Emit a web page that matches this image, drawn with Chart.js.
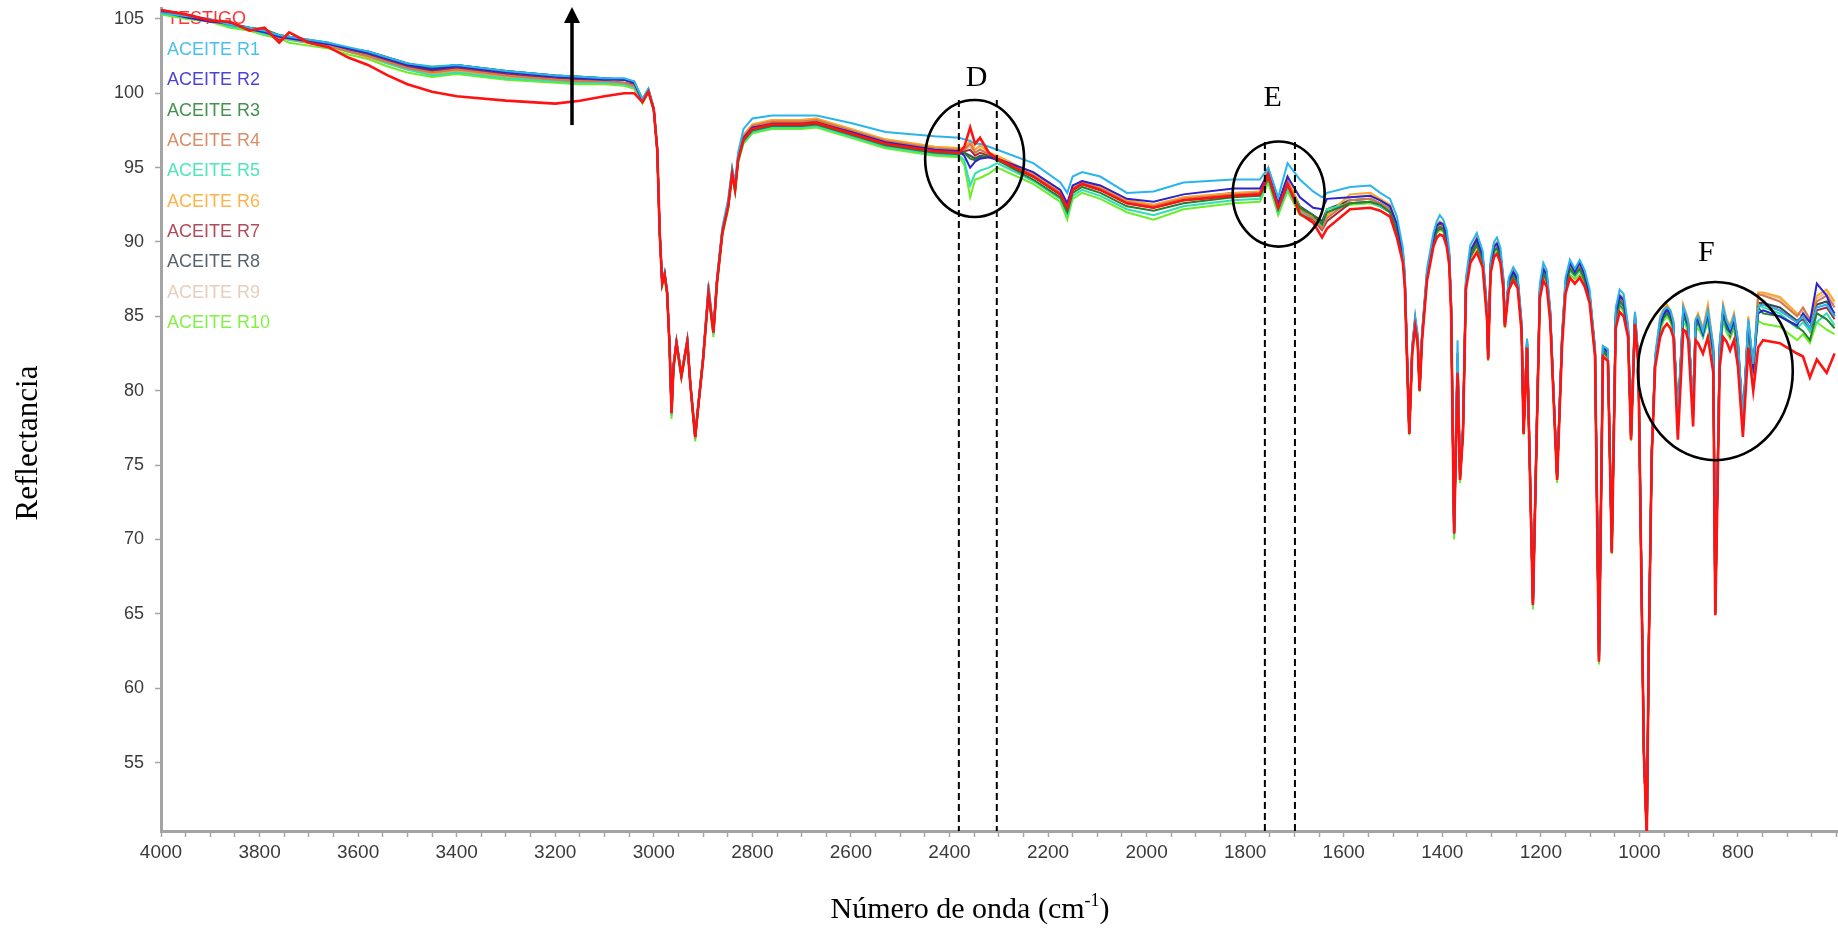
<!DOCTYPE html>
<html lang="es">
<head>
<meta charset="utf-8">
<title>Reflectancia</title>
<script src="https://cdn.jsdelivr.net/npm/chart.js@4.4.1/dist/chart.umd.min.js"></script>
<style>
  html, body { margin: 0; padding: 0; background: #fff; }
  canvas { display: block; }
</style>
</head>
<body>
<canvas id="espectro" width="1838" height="931"></canvas>
<script>
// numero de onda (cm-1), de mayor a menor
const numeroOnda = [
  4000, 3950, 3900, 3860, 3820, 3790, 3760, 3740, 3700, 3660,
  3620, 3580, 3540, 3500, 3450, 3400, 3300, 3200, 3150, 3100,
  3060, 3040, 3023, 3011, 3000, 2993, 2988, 2983, 2978, 2973,
  2968, 2964, 2960, 2954, 2944, 2932, 2926, 2916, 2910, 2900,
  2889, 2879, 2872, 2861, 2849, 2841, 2835, 2829, 2818, 2800,
  2760, 2700, 2670, 2600, 2530, 2430, 2380, 2370, 2358, 2348,
  2338, 2320, 2303, 2230, 2175, 2161, 2150, 2131, 2094, 2040,
  1986, 1925, 1824, 1770, 1753, 1733, 1714, 1689, 1662, 1644,
  1634, 1587, 1546, 1526, 1506, 1492, 1480, 1476, 1467, 1461,
  1455, 1450, 1446, 1441, 1431, 1418, 1411, 1405, 1398, 1391, 1386, 1382, 1376,
  1369, 1364, 1358, 1352, 1343, 1330, 1318, 1309, 1307, 1302, 1295, 1289, 1282, 1276,
  1273, 1265, 1256, 1247, 1239, 1235, 1228, 1216, 1208, 1202, 1195, 1188, 1181, 1167,
  1157, 1150, 1141, 1131, 1121, 1111, 1101, 1090, 1082, 1074, 1064, 1056,
  1048, 1040, 1032, 1023, 1017, 1009, 1002, 991, 985, 981, 975, 968,
  958, 951, 944, 937, 931, 922, 911, 906, 901, 891, 886, 881, 871, 861,
  850, 846, 837, 830, 823, 816, 808, 800, 790, 779, 769,
  759, 749, 715, 680, 668, 654, 640, 620, 604
];

const testigo = [
  105.6, 105.3, 104.9, 104.8, 104.2, 104.4, 103.4, 104.1, 103.4, 103.1,
  102.4, 101.9, 101.2, 100.6, 100.1, 99.8, 99.5, 99.3, 99.5, 99.8,
  100.0, 100.0, 99.4, 100.1, 98.9, 96.2, 90.6, 87.2, 87.8, 86.6,
  83.0, 78.5, 81.6, 83.2, 81.0, 83.3, 80.5, 76.9, 78.9, 82.1,
  86.6, 83.9, 87.2, 90.6, 92.4, 94.6, 93.5, 95.5, 96.9, 97.6,
  97.9, 97.9, 98.0, 97.3, 96.6, 96.1, 96.0, 96.4, 97.7, 96.6,
  97.0, 96.0, 95.6, 94.4, 93.2, 92.3, 93.5, 93.9, 93.5, 92.6,
  92.3, 92.8, 93.1, 93.2, 94.5, 92.3, 93.9, 91.9, 91.3, 90.3,
  90.9, 92.2, 92.3, 92.1, 91.7, 90.3, 88.6, 87.0, 77.1, 82.5,
  84.3, 83.2, 80.0, 83.4, 87.4, 89.7, 90.3, 90.5, 90.4, 89.7, 88.5, 85.2, 70.4,
  81.2, 74.0, 77.1, 86.8, 88.6, 89.3, 88.3, 84.7, 82.1, 87.9, 89.0, 89.2, 88.6, 86.8,
  84.3, 86.8, 87.4, 86.9, 83.9, 77.1, 82.9, 65.6, 77.6, 86.2, 87.4, 87.0, 84.7, 74.0,
  83.0, 86.5, 87.6, 87.2, 87.6, 87.0, 85.9, 82.3, 61.8, 82.3, 82.0, 69.1,
  84.2, 85.3, 85.0, 83.6, 76.7, 84.5, 81.6, 55.7, 50.0, 62.6, 75.5, 81.6,
  83.6, 84.2, 84.5, 84.2, 83.6, 76.7, 84.1, 84.0, 83.4, 77.6, 83.4, 83.2, 82.5, 83.6,
  81.2, 64.9, 81.6, 83.6, 83.3, 82.7, 83.4, 81.6, 76.9, 82.9, 80.0,
  82.9, 83.4, 83.2, 82.5, 82.3, 80.9, 82.1, 81.2, 82.5
];

const aceiteR1 = [
  105.4, 105.2, 105.0, 104.6, 104.4, 104.2, 103.9, 103.8, 103.6, 103.4,
  103.1, 102.8, 102.4, 102.0, 101.8, 101.9, 101.5, 101.2, 101.1, 101.0,
  101.0, 100.8, 99.6, 100.3, 99.0, 96.3, 90.8, 87.3, 88.0, 86.7,
  83.1, 78.6, 81.8, 83.4, 81.1, 83.5, 80.6, 77.0, 79.0, 82.3,
  87.2, 84.1, 87.5, 91.0, 92.9, 95.0, 94.0, 96.0, 97.6, 98.3,
  98.5, 98.5, 98.5, 98.0, 97.4, 97.1, 97.0, 96.9, 96.8, 96.6,
  96.6, 96.4, 96.2, 95.3, 94.0, 93.3, 94.4, 94.7, 94.4, 93.3,
  93.4, 94.0, 94.2, 94.2, 95.0, 93.0, 95.3, 94.2, 93.4, 93.0,
  93.3, 93.7, 93.8, 93.3, 92.9, 91.7, 89.6, 88.0, 77.4, 83.0,
  85.0, 83.8, 80.3, 84.0, 88.2, 90.6, 91.4, 91.8, 91.5, 90.8, 89.5, 86.0, 70.6,
  83.4, 74.5, 77.6, 87.6, 89.8, 90.6, 89.4, 85.4, 82.4, 88.8, 90.0, 90.3, 89.6, 87.6,
  84.7, 87.6, 88.3, 87.8, 84.6, 77.5, 83.5, 65.8, 78.2, 87.2, 88.6, 88.1, 85.5, 74.3,
  83.8, 87.6, 88.8, 88.2, 88.8, 88.1, 86.8, 82.9, 62.0, 83.0, 82.8, 69.4,
  85.6, 86.8, 86.5, 84.4, 77.0, 85.3, 82.2, 55.9, 50.0, 62.9, 76.0, 82.4,
  84.8, 85.4, 85.6, 85.4, 84.6, 78.4, 85.6, 85.2, 84.6, 79.0, 84.8, 85.0, 84.0, 85.4,
  83.0, 65.3, 83.2, 85.6, 84.7, 84.2, 85.0, 83.4, 78.2, 84.8, 81.8,
  85.6, 85.8, 85.4, 84.6, 85.0, 84.2, 85.6, 85.8, 85.0
];

const aceiteR2 = [
  105.5, 105.1, 104.8, 104.7, 104.3, 104.1, 103.8, 103.7, 103.5, 103.3,
  103.0, 102.7, 102.3, 101.9, 101.6, 101.8, 101.4, 101.1, 101.0, 100.9,
  100.9, 100.7, 99.5, 100.2, 98.9, 96.2, 90.7, 87.2, 87.9, 86.6,
  83.0, 78.6, 81.7, 83.3, 81.0, 83.4, 80.5, 76.9, 78.9, 82.2,
  86.8, 84.0, 87.3, 90.7, 92.5, 94.7, 93.6, 95.6, 97.0, 97.7,
  97.9, 97.9, 98.0, 97.4, 96.7, 96.2, 96.1, 95.8, 95.0, 95.4,
  95.6, 95.7, 95.6, 94.7, 93.5, 92.6, 93.8, 94.1, 93.8, 92.9,
  92.7, 93.2, 93.6, 93.6, 94.6, 92.6, 94.4, 93.0, 92.3, 92.2,
  92.9, 93.0, 93.1, 92.8, 92.4, 91.2, 89.3, 87.6, 77.3, 82.9,
  84.8, 83.6, 80.2, 83.8, 87.9, 90.3, 91.1, 91.3, 91.2, 90.4, 89.2, 85.8, 70.5,
  82.5, 74.3, 77.4, 87.3, 89.4, 90.2, 89.1, 85.2, 82.3, 88.5, 89.7, 89.9, 89.3, 87.4,
  84.6, 87.4, 88.0, 87.5, 84.4, 77.3, 83.4, 65.7, 78.0, 86.9, 88.2, 87.8, 85.3, 74.2,
  83.6, 87.3, 88.6, 88.0, 88.6, 87.8, 86.5, 82.7, 61.9, 82.9, 82.6, 69.3,
  85.2, 86.4, 86.1, 84.2, 76.9, 85.1, 82.0, 55.8, 50.0, 62.8, 75.9, 82.2,
  84.5, 85.1, 85.5, 85.1, 84.4, 78.0, 85.4, 85.0, 84.4, 78.6, 84.6, 84.8, 83.8, 85.2,
  82.6, 65.2, 83.0, 85.4, 84.5, 84.0, 84.8, 83.2, 78.0, 84.6, 81.6,
  85.2, 85.4, 85.0, 84.4, 85.2, 84.6, 87.2, 86.4, 85.0
];

const aceiteR3 = [
  105.5, 105.2, 104.9, 104.6, 104.4, 104.3, 103.9, 103.8, 103.6, 103.4,
  103.0, 102.8, 102.4, 102.0, 101.7, 101.9, 101.5, 101.2, 101.1, 101.0,
  100.9, 100.8, 99.6, 100.3, 99.0, 96.3, 90.7, 87.3, 87.9, 86.7,
  83.1, 78.6, 81.7, 83.3, 81.1, 83.4, 80.6, 77.0, 79.0, 82.2,
  86.7, 84.0, 87.3, 90.7, 92.4, 94.6, 93.5, 95.5, 96.8, 97.5,
  97.8, 97.8, 97.9, 97.2, 96.5, 96.0, 95.9, 96.0, 95.6, 95.5,
  95.7, 95.8, 95.5, 94.2, 93.0, 92.0, 93.3, 93.7, 93.3, 92.4,
  92.1, 92.6, 93.0, 93.1, 94.3, 92.2, 93.8, 92.3, 91.8, 91.2,
  92.0, 92.6, 92.7, 92.5, 92.0, 90.8, 89.0, 87.3, 77.2, 82.7,
  84.6, 83.4, 80.1, 83.6, 87.7, 90.1, 90.8, 91.0, 90.9, 90.1, 89.0, 85.5, 70.4,
  82.0, 74.2, 77.3, 87.1, 89.1, 89.9, 88.8, 85.0, 82.2, 88.3, 89.4, 89.6, 89.0, 87.2,
  84.5, 87.2, 87.8, 87.3, 84.2, 77.2, 83.2, 65.6, 77.9, 86.6, 87.9, 87.5, 85.1, 74.1,
  83.4, 87.0, 88.2, 87.8, 88.2, 87.5, 86.3, 82.6, 61.8, 82.7, 82.4, 69.2,
  84.9, 86.0, 85.7, 84.0, 76.8, 84.9, 81.9, 55.8, 50.0, 62.7, 75.8, 82.0,
  84.3, 84.9, 85.2, 84.8, 84.2, 78.2, 85.0, 84.7, 84.2, 78.8, 84.3, 84.6, 83.8, 85.0,
  82.5, 65.2, 82.8, 85.2, 84.2, 83.9, 84.6, 83.0, 78.0, 84.3, 81.5,
  85.6, 85.2, 85.0, 84.3, 84.0, 83.4, 85.2, 84.8, 84.2
];

const aceiteR4 = [
  105.6, 105.2, 104.8, 104.7, 104.3, 104.2, 103.7, 103.7, 103.4, 103.2,
  102.8, 102.5, 102.1, 101.7, 101.4, 101.6, 101.2, 100.9, 100.8, 100.8,
  100.7, 100.5, 99.5, 100.2, 98.9, 96.2, 90.6, 87.2, 87.8, 86.6,
  83.0, 78.4, 81.6, 83.2, 81.0, 83.3, 80.5, 76.8, 78.9, 82.1,
  86.7, 83.9, 87.3, 90.7, 92.6, 94.8, 93.7, 95.7, 97.1, 97.8,
  98.1, 98.1, 98.2, 97.5, 96.8, 96.3, 96.2, 96.2, 96.6, 96.0,
  96.2, 95.9, 95.6, 94.5, 93.3, 92.4, 93.6, 94.0, 93.6, 92.7,
  92.4, 92.9, 93.2, 93.3, 94.8, 92.4, 94.1, 92.2, 91.6, 90.9,
  91.6, 92.8, 92.9, 92.6, 92.2, 90.8, 89.1, 87.4, 77.2, 82.8,
  84.7, 83.5, 80.1, 83.7, 87.8, 90.2, 90.9, 91.1, 91.0, 90.2, 89.1, 85.6, 70.5,
  82.1, 74.2, 77.3, 87.2, 89.2, 90.0, 88.9, 85.1, 82.2, 88.4, 89.5, 89.7, 89.1, 87.3,
  84.5, 87.3, 87.9, 87.4, 84.3, 77.3, 83.3, 65.7, 78.0, 86.7, 88.0, 87.6, 85.2, 74.2,
  83.5, 87.1, 88.3, 87.9, 88.3, 87.6, 86.4, 82.7, 61.9, 82.8, 82.5, 69.3,
  85.0, 86.1, 85.8, 84.1, 76.9, 85.0, 82.0, 55.8, 50.0, 62.8, 75.9, 82.1,
  84.6, 85.3, 85.6, 85.2, 84.6, 77.8, 85.6, 85.1, 84.6, 78.6, 84.6, 85.0, 84.0, 85.4,
  82.8, 65.1, 83.0, 85.6, 84.6, 84.2, 85.0, 83.2, 77.8, 84.6, 81.2,
  86.5, 86.4, 86.0, 85.0, 85.6, 84.8, 86.0, 86.4, 85.6
];

const aceiteR5 = [
  105.4, 105.1, 104.9, 104.5, 104.3, 104.0, 103.8, 103.6, 103.4, 103.2,
  102.8, 102.5, 102.0, 101.6, 101.2, 101.4, 101.0, 100.8, 100.7, 100.7,
  100.6, 100.4, 99.4, 100.1, 98.8, 96.1, 90.5, 87.1, 87.7, 86.5,
  82.9, 78.3, 81.5, 83.1, 80.9, 83.2, 80.4, 76.8, 78.8, 82.0,
  86.5, 83.8, 87.1, 90.5, 92.3, 94.5, 93.4, 95.4, 96.7, 97.4,
  97.7, 97.7, 97.8, 97.1, 96.4, 95.9, 95.8, 95.5, 93.8, 94.6,
  94.8, 95.0, 95.3, 94.1, 92.9, 91.8, 93.1, 93.5, 93.1, 92.2,
  91.8, 92.4, 92.8, 92.9, 94.2, 92.0, 93.6, 92.0, 91.6, 91.0,
  92.2, 92.6, 92.7, 92.4, 92.0, 90.7, 88.9, 87.3, 77.1, 82.7,
  84.6, 83.4, 80.0, 83.6, 87.7, 90.1, 90.8, 91.0, 90.9, 90.1, 89.0, 85.5, 70.3,
  82.0, 74.1, 77.2, 87.1, 89.1, 89.9, 88.8, 85.0, 82.2, 88.3, 89.4, 89.6, 89.0, 87.2,
  84.4, 87.2, 87.8, 87.3, 84.2, 77.1, 83.2, 65.5, 77.9, 86.6, 87.9, 87.5, 85.1, 74.1,
  83.4, 87.0, 88.1, 87.7, 88.1, 87.5, 86.2, 82.5, 61.8, 82.7, 82.4, 69.2,
  84.8, 85.9, 85.6, 83.9, 76.8, 84.9, 81.9, 55.7, 50.0, 62.7, 75.7, 82.0,
  84.2, 84.9, 85.2, 84.8, 84.3, 78.0, 85.0, 84.6, 84.2, 78.7, 84.2, 84.6, 83.6, 84.9,
  82.4, 65.0, 82.7, 85.0, 84.0, 83.8, 84.5, 82.9, 77.8, 84.2, 81.6,
  85.8, 85.6, 85.2, 84.2, 84.6, 84.0, 84.6, 85.2, 84.4
];

const aceiteR6 = [
  105.5, 105.2, 104.8, 104.6, 104.3, 104.1, 103.8, 103.6, 103.4, 103.1,
  102.8, 102.4, 102.0, 101.6, 101.3, 101.5, 101.1, 100.9, 100.8, 100.7,
  100.6, 100.4, 99.5, 100.2, 98.9, 96.2, 90.6, 87.3, 87.9, 86.7,
  83.0, 78.5, 81.7, 83.3, 81.0, 83.4, 80.5, 76.9, 79.0, 82.2,
  86.9, 84.0, 87.4, 90.8, 92.7, 94.9, 93.8, 95.8, 97.2, 97.9,
  98.2, 98.2, 98.3, 97.6, 96.9, 96.4, 96.3, 96.3, 96.8, 96.2,
  96.5, 96.0, 95.8, 94.6, 93.4, 92.5, 93.7, 94.1, 93.7, 92.8,
  92.5, 93.0, 93.3, 93.4, 95.0, 92.5, 94.4, 92.3, 91.7, 91.1,
  91.8, 93.2, 93.3, 92.9, 92.5, 91.1, 89.4, 87.7, 77.3, 83.0,
  85.0, 83.7, 80.2, 83.9, 88.0, 90.4, 91.1, 91.4, 91.2, 90.4, 89.3, 85.9, 70.6,
  82.6, 74.4, 77.5, 87.4, 89.4, 90.3, 89.1, 85.3, 82.4, 88.6, 89.8, 90.0, 89.3, 87.5,
  84.7, 87.5, 88.1, 87.6, 84.5, 77.4, 83.5, 65.8, 78.2, 87.0, 88.3, 87.8, 85.4, 74.3,
  83.7, 87.3, 88.5, 88.1, 88.5, 87.8, 86.6, 82.8, 62.0, 83.0, 82.7, 69.4,
  85.3, 86.5, 86.2, 84.3, 77.0, 85.3, 82.2, 55.9, 50.0, 62.9, 76.0, 82.3,
  85.0, 85.5, 85.8, 85.4, 84.8, 77.5, 85.8, 85.3, 84.8, 78.3, 84.8, 85.2, 84.2, 85.8,
  83.0, 65.2, 83.3, 85.8, 84.8, 84.4, 85.2, 83.4, 77.5, 85.0, 81.0,
  86.6, 86.6, 86.3, 85.2, 85.0, 84.6, 86.4, 86.8, 86.0
];

const aceiteR7 = [
  105.6, 105.3, 104.9, 104.7, 104.3, 104.2, 103.6, 103.8, 103.4, 103.2,
  102.9, 102.6, 102.2, 101.8, 101.5, 101.7, 101.3, 101.0, 100.9, 100.8,
  100.7, 100.6, 99.5, 100.2, 98.9, 96.2, 90.6, 87.2, 87.8, 86.6,
  83.0, 78.5, 81.6, 83.2, 81.0, 83.3, 80.5, 76.9, 78.9, 82.1,
  86.7, 83.9, 87.2, 90.6, 92.5, 94.7, 93.6, 95.6, 97.0, 97.7,
  98.0, 98.0, 98.1, 97.4, 96.7, 96.2, 96.1, 96.1, 96.2, 95.8,
  96.0, 95.8, 95.5, 94.4, 93.2, 92.3, 93.5, 93.9, 93.5, 92.6,
  92.3, 92.8, 93.1, 93.2, 94.6, 92.3, 94.0, 92.0, 91.5, 90.8,
  91.4, 92.6, 92.7, 92.4, 92.0, 90.6, 88.9, 87.2, 77.1, 82.7,
  84.6, 83.4, 80.0, 83.6, 87.7, 90.0, 90.7, 90.9, 90.8, 90.0, 88.9, 85.4, 70.4,
  81.8, 74.1, 77.2, 87.1, 89.0, 89.8, 88.7, 85.0, 82.1, 88.2, 89.4, 89.6, 89.0, 87.1,
  84.4, 87.1, 87.7, 87.2, 84.2, 77.2, 83.2, 65.6, 77.8, 86.6, 87.8, 87.4, 85.0, 74.1,
  83.3, 86.9, 88.1, 87.7, 88.1, 87.4, 86.2, 82.5, 61.8, 82.6, 82.3, 69.2,
  84.7, 85.8, 85.5, 83.9, 76.8, 84.8, 81.8, 55.7, 50.0, 62.7, 75.7, 81.9,
  84.4, 85.0, 85.3, 84.9, 84.3, 77.6, 85.2, 84.8, 84.3, 78.2, 84.2, 84.6, 83.7, 85.0,
  82.4, 65.0, 82.6, 85.0, 84.2, 83.7, 84.5, 82.7, 77.5, 84.2, 81.0,
  85.8, 85.8, 85.4, 84.6, 84.8, 84.0, 85.4, 85.6, 84.8
];

const aceiteR8 = [
  105.5, 105.2, 104.9, 104.7, 104.4, 104.2, 103.9, 103.8, 103.5, 103.3,
  103.0, 102.8, 102.4, 102.0, 101.7, 101.9, 101.5, 101.2, 101.1, 101.0,
  100.9, 100.7, 99.5, 100.2, 98.9, 96.2, 90.6, 87.2, 87.8, 86.6,
  83.0, 78.5, 81.6, 83.2, 81.0, 83.3, 80.5, 76.9, 78.9, 82.1,
  86.7, 83.9, 87.2, 90.6, 92.5, 94.7, 93.6, 95.6, 97.0, 97.7,
  98.0, 98.0, 98.1, 97.4, 96.7, 96.2, 96.1, 96.0, 95.8, 95.6,
  95.8, 95.7, 95.5, 94.4, 93.2, 92.3, 93.5, 93.9, 93.5, 92.7,
  92.4, 92.9, 93.3, 93.3, 94.6, 92.4, 94.1, 92.4, 91.8, 91.4,
  92.2, 92.8, 92.9, 92.6, 92.2, 90.9, 89.1, 87.4, 77.2, 82.8,
  84.7, 83.5, 80.1, 83.7, 87.8, 90.2, 90.9, 91.2, 91.0, 90.2, 89.1, 85.6, 70.5,
  82.2, 74.2, 77.3, 87.2, 89.2, 90.0, 88.9, 85.1, 82.2, 88.4, 89.5, 89.7, 89.1, 87.3,
  84.5, 87.3, 87.9, 87.4, 84.3, 77.3, 83.3, 65.7, 78.0, 86.7, 88.0, 87.6, 85.2, 74.2,
  83.5, 87.1, 88.3, 87.9, 88.3, 87.6, 86.4, 82.7, 61.9, 82.8, 82.5, 69.3,
  85.0, 86.2, 85.8, 84.1, 76.9, 85.0, 82.0, 55.8, 50.0, 62.8, 75.9, 82.1,
  84.5, 85.2, 85.6, 85.1, 84.5, 77.8, 85.4, 85.0, 84.5, 78.4, 84.5, 84.9, 84.0, 85.3,
  82.7, 65.1, 82.9, 85.4, 84.5, 84.1, 84.9, 83.1, 77.7, 84.5, 81.2,
  85.9, 85.9, 85.6, 84.7, 85.0, 84.2, 85.8, 86.0, 85.2
];

const aceiteR9 = [
  105.5, 105.2, 104.8, 104.6, 104.3, 104.1, 103.7, 103.6, 103.4, 103.1,
  102.8, 102.5, 102.1, 101.7, 101.4, 101.6, 101.2, 100.9, 100.8, 100.8,
  100.7, 100.5, 99.5, 100.2, 98.9, 96.2, 90.6, 87.3, 87.9, 86.7,
  83.0, 78.5, 81.7, 83.3, 81.0, 83.4, 80.5, 76.9, 79.0, 82.2,
  86.9, 84.0, 87.4, 90.8, 92.7, 94.9, 93.8, 95.8, 97.2, 97.9,
  98.2, 98.2, 98.3, 97.6, 96.9, 96.4, 96.3, 96.2, 96.4, 95.9,
  96.3, 95.8, 95.7, 94.6, 93.4, 92.5, 93.7, 94.1, 93.7, 92.8,
  92.5, 93.0, 93.3, 93.4, 94.9, 92.5, 94.3, 92.3, 91.7, 91.0,
  91.7, 93.0, 93.1, 92.8, 92.4, 91.0, 89.3, 87.6, 77.3, 82.9,
  84.9, 83.6, 80.1, 83.8, 87.9, 90.3, 91.0, 91.3, 91.1, 90.3, 89.2, 85.8, 70.5,
  82.4, 74.3, 77.4, 87.3, 89.3, 90.1, 89.0, 85.2, 82.3, 88.5, 89.7, 89.9, 89.2, 87.4,
  84.6, 87.4, 88.0, 87.5, 84.4, 77.3, 83.4, 65.7, 78.1, 86.9, 88.2, 87.7, 85.3, 74.2,
  83.6, 87.2, 88.4, 88.0, 88.4, 87.7, 86.5, 82.7, 61.9, 82.9, 82.6, 69.3,
  85.1, 86.3, 86.0, 84.2, 76.9, 85.2, 82.1, 55.8, 50.0, 62.8, 75.9, 82.2,
  84.8, 85.4, 85.7, 85.3, 84.7, 77.6, 85.7, 85.2, 84.7, 78.4, 84.7, 85.1, 84.1, 85.6,
  82.9, 65.1, 83.1, 85.7, 84.7, 84.3, 85.1, 83.3, 77.6, 84.8, 81.1,
  86.4, 86.5, 86.2, 85.1, 85.4, 84.8, 86.2, 86.6, 85.8
];

const aceiteR10 = [
  105.3, 105.0, 104.8, 104.4, 104.2, 103.9, 103.7, 103.4, 103.2, 103.0,
  102.6, 102.3, 101.8, 101.4, 101.1, 101.3, 100.9, 100.7, 100.6, 100.6,
  100.5, 100.3, 99.3, 100.1, 98.8, 96.0, 90.4, 87.0, 87.6, 86.4,
  82.8, 78.1, 81.4, 83.0, 80.8, 83.1, 80.3, 76.6, 78.7, 81.9,
  86.4, 83.6, 87.0, 90.4, 92.2, 94.4, 93.3, 95.3, 96.6, 97.3,
  97.6, 97.6, 97.7, 97.0, 96.3, 95.8, 95.7, 95.2, 93.0, 94.2,
  94.3, 94.6, 95.0, 93.9, 92.7, 91.5, 92.9, 93.3, 92.9, 92.0,
  91.5, 92.2, 92.6, 92.7, 94.0, 91.8, 93.4, 91.8, 91.5, 91.0,
  92.0, 92.5, 92.6, 92.4, 92.0, 90.6, 88.8, 87.1, 77.0, 82.6,
  84.4, 83.3, 79.9, 83.5, 87.5, 89.9, 90.6, 90.8, 90.7, 89.9, 88.8, 85.3, 70.0,
  81.8, 73.8, 77.0, 86.9, 88.9, 89.7, 88.6, 84.8, 82.0, 88.1, 89.2, 89.4, 88.8, 87.0,
  84.2, 87.0, 87.6, 87.1, 84.0, 77.0, 83.0, 65.3, 77.7, 86.4, 87.7, 87.3, 84.9, 73.8,
  83.2, 86.8, 87.8, 87.5, 87.8, 87.3, 86.0, 82.3, 61.6, 82.5, 82.2, 69.0,
  84.5, 85.7, 85.3, 83.7, 76.6, 84.7, 81.7, 55.5, 50.0, 62.5, 75.5, 81.8,
  84.0, 84.7, 85.0, 84.6, 84.0, 79.0, 84.6, 84.4, 83.8, 79.2, 84.0, 84.2, 83.6, 84.6,
  82.2, 66.0, 82.4, 84.8, 83.9, 83.5, 84.2, 82.6, 78.4, 83.8, 82.0,
  84.7, 84.5, 84.3, 83.4, 83.8, 83.2, 84.6, 84.1, 83.8
];

const nombresSeries = ['TESTIGO', 'ACEITE R1', 'ACEITE R2', 'ACEITE R3', 'ACEITE R4', 'ACEITE R5',
  'ACEITE R6', 'ACEITE R7', 'ACEITE R8', 'ACEITE R9', 'ACEITE R10'];
const valoresSeries = [testigo, aceiteR1, aceiteR2, aceiteR3, aceiteR4, aceiteR5,
  aceiteR6, aceiteR7, aceiteR8, aceiteR9, aceiteR10];

const etiquetasX = [4000, 3800, 3600, 3400, 3200, 3000, 2800, 2600, 2400, 2200, 2000, 1800, 1600, 1400, 1200, 1000, 800];
const etiquetasY = [55, 60, 65, 70, 75, 80, 85, 90, 95, 100, 105];

// estilo
const colores = ['#ff1212', '#2ab4ec', '#2a22cc', '#22802e', '#d47a4e', '#30e0b2',
  '#ffa62a', '#a42c3c', '#3a4852', '#e4c6ae', '#6cee26'];
const fuenteEjes = '"Liberation Sans", Arial, sans-serif';
const fuenteSerif = '"Liberation Serif", "Times New Roman", serif';

// marcas menores del eje x cada 50 cm-1
const marcasX = [];
for (let w = 4000; w >= 600; w -= 50) marcasX.push(w);

// anotaciones (en unidades de los ejes)
const flecha = { x: 3166, desde: 97.86, hasta: 105.8 };
const elipses = [
  { letra: 'D', x: 2349, y: 95.61, rx: 100.4, ry: 3.93, lx: 2345, ly: 101.0 },
  { letra: 'E', x: 1732, y: 93.22, rx: 93.3, ry: 3.53, lx: 1744, ly: 99.68 },
  { letra: 'F', x: 846, y: 81.32, rx: 157.2, ry: 5.99, lx: 864, ly: 89.25 }
];
const discontinuas = [
  { x: 2381, y: 99.54 }, { x: 2304, y: 99.54 },
  { x: 1760, y: 96.72 }, { x: 1699, y: 96.72 }
];

const pluginEspectro = {
  id: 'pluginEspectro',
  beforeDatasetsDraw(chart) {
    const ctx = chart.ctx, area = chart.chartArea;
    ctx.save();
    ctx.font = '18px ' + fuenteEjes;
    ctx.textBaseline = 'middle';
    ctx.textAlign = 'left';
    chart.data.datasets.forEach((ds, i) => {
      ctx.fillStyle = ds.borderColor;
      ctx.globalAlpha = 0.85;
      ctx.fillText(ds.label, area.left + 6, area.top + 11.5 + i * 30.35);
    });
    ctx.restore();
  },
  afterDatasetsDraw(chart) {
    const ctx = chart.ctx;
    const sx = chart.scales.x, sy = chart.scales.y;
    ctx.save();
    ctx.strokeStyle = '#000';
    ctx.fillStyle = '#000';

    // flecha
    const fx = sx.getPixelForValue(flecha.x);
    const fy0 = sy.getPixelForValue(flecha.desde);
    const fy1 = sy.getPixelForValue(flecha.hasta);
    ctx.lineWidth = 3.5;
    ctx.beginPath();
    ctx.moveTo(fx, fy0);
    ctx.lineTo(fx, fy1 + 14);
    ctx.stroke();
    ctx.beginPath();
    ctx.moveTo(fx, fy1);
    ctx.lineTo(fx - 8, fy1 + 16);
    ctx.lineTo(fx + 8, fy1 + 16);
    ctx.closePath();
    ctx.fill();

    // lineas discontinuas
    ctx.lineWidth = 2;
    ctx.setLineDash([7, 4]);
    discontinuas.forEach(d => {
      const px = sx.getPixelForValue(d.x);
      ctx.beginPath();
      ctx.moveTo(px, sy.getPixelForValue(d.y));
      ctx.lineTo(px, sy.bottom);
      ctx.stroke();
    });
    ctx.setLineDash([]);

    // elipses y letras
    ctx.lineWidth = 2.6;
    ctx.font = '30px ' + fuenteSerif;
    ctx.textAlign = 'center';
    ctx.textBaseline = 'middle';
    elipses.forEach(e => {
      const cx = sx.getPixelForValue(e.x), cy = sy.getPixelForValue(e.y);
      const rx = Math.abs(sx.getPixelForValue(e.x + e.rx) - cx);
      const ry = Math.abs(sy.getPixelForValue(e.y + e.ry) - cy);
      ctx.beginPath();
      ctx.ellipse(cx, cy, rx, ry, 0, 0, Math.PI * 2);
      ctx.stroke();
      ctx.fillText(e.letra, sx.getPixelForValue(e.lx), sy.getPixelForValue(e.ly));
    });
    ctx.restore();
  },
  afterDraw(chart) {
    const ctx = chart.ctx;
    ctx.save();
    ctx.fillStyle = '#000';
    // titulo eje x con superindice
    const base = 'Número de onda (cm';
    const sup = '-1';
    const fin = ')';
    ctx.font = '30px ' + fuenteSerif;
    const wBase = ctx.measureText(base).width;
    const wFin = ctx.measureText(fin).width;
    ctx.font = '18px ' + fuenteSerif;
    const wSup = ctx.measureText(sup).width;
    let x = 970 - (wBase + wSup + wFin) / 2;
    const y = 918;
    ctx.textBaseline = 'alphabetic';
    ctx.textAlign = 'left';
    ctx.font = '30px ' + fuenteSerif;
    ctx.fillText(base, x, y);
    x += wBase;
    ctx.font = '18px ' + fuenteSerif;
    ctx.fillText(sup, x, y - 12);
    x += wSup;
    ctx.font = '30px ' + fuenteSerif;
    ctx.fillText(fin, x, y);

    // titulo eje y
    ctx.font = '31px ' + fuenteSerif;
    ctx.translate(29, 443);
    ctx.rotate(-Math.PI / 2);
    ctx.textAlign = 'center';
    ctx.textBaseline = 'middle';
    ctx.fillText('Reflectancia', 0, 0);
    ctx.restore();
  }
};

const datasets = valoresSeries.map((serie, i) => ({
  label: nombresSeries[i],
  data: numeroOnda.map((w, j) => ({ x: w, y: serie[j] })),
  borderColor: colores[i],
  backgroundColor: colores[i],
  borderWidth: i === 0 ? 2.6 : 2,
  pointRadius: 0,
  tension: 0,
  fill: false
}));

new Chart(document.getElementById('espectro'), {
  type: 'line',
  data: { datasets },
  options: {
    responsive: false,
    animation: false,
    devicePixelRatio: 1,
    layout: { padding: { top: 8, left: 0, right: 0, bottom: 0 } },
    plugins: { legend: { display: false }, tooltip: { enabled: false }, title: { display: false } },
    scales: {
      x: {
        type: 'linear',
        reverse: true,
        min: 597,
        max: 4000,
        afterBuildTicks: s => { s.ticks = marcasX.map(v => ({ value: v })); },
        afterFit: s => { s.height = 100; s.paddingLeft = 0; s.paddingRight = 0; },
        border: { color: '#a4a4a4', width: 3 },
        grid: { drawOnChartArea: false, drawTicks: true, tickLength: 6, color: '#a4a4a4', tickWidth: 1.5 },
        ticks: {
          autoSkip: false, maxRotation: 0, minRotation: 0, padding: 4,
          color: '#3a3a3a', font: { family: fuenteEjes, size: 19 },
          callback: v => etiquetasX.includes(v) ? String(v) : ''
        }
      },
      y: {
        min: 50.4,
        max: 105.73,
        afterBuildTicks: s => { s.ticks = etiquetasY.map(v => ({ value: v })); },
        afterFit: s => { s.width = 161; s.paddingTop = 0; s.paddingBottom = 0; },
        border: { color: '#a4a4a4', width: 3 },
        grid: { drawOnChartArea: false, drawTicks: true, tickLength: 6, color: '#a4a4a4', tickWidth: 1.5 },
        ticks: {
          padding: 11, color: '#3a3a3a', font: { family: fuenteEjes, size: 18 },
          callback: v => String(v)
        }
      }
    }
  },
  plugins: [pluginEspectro]
});
</script>
</body>
</html>
